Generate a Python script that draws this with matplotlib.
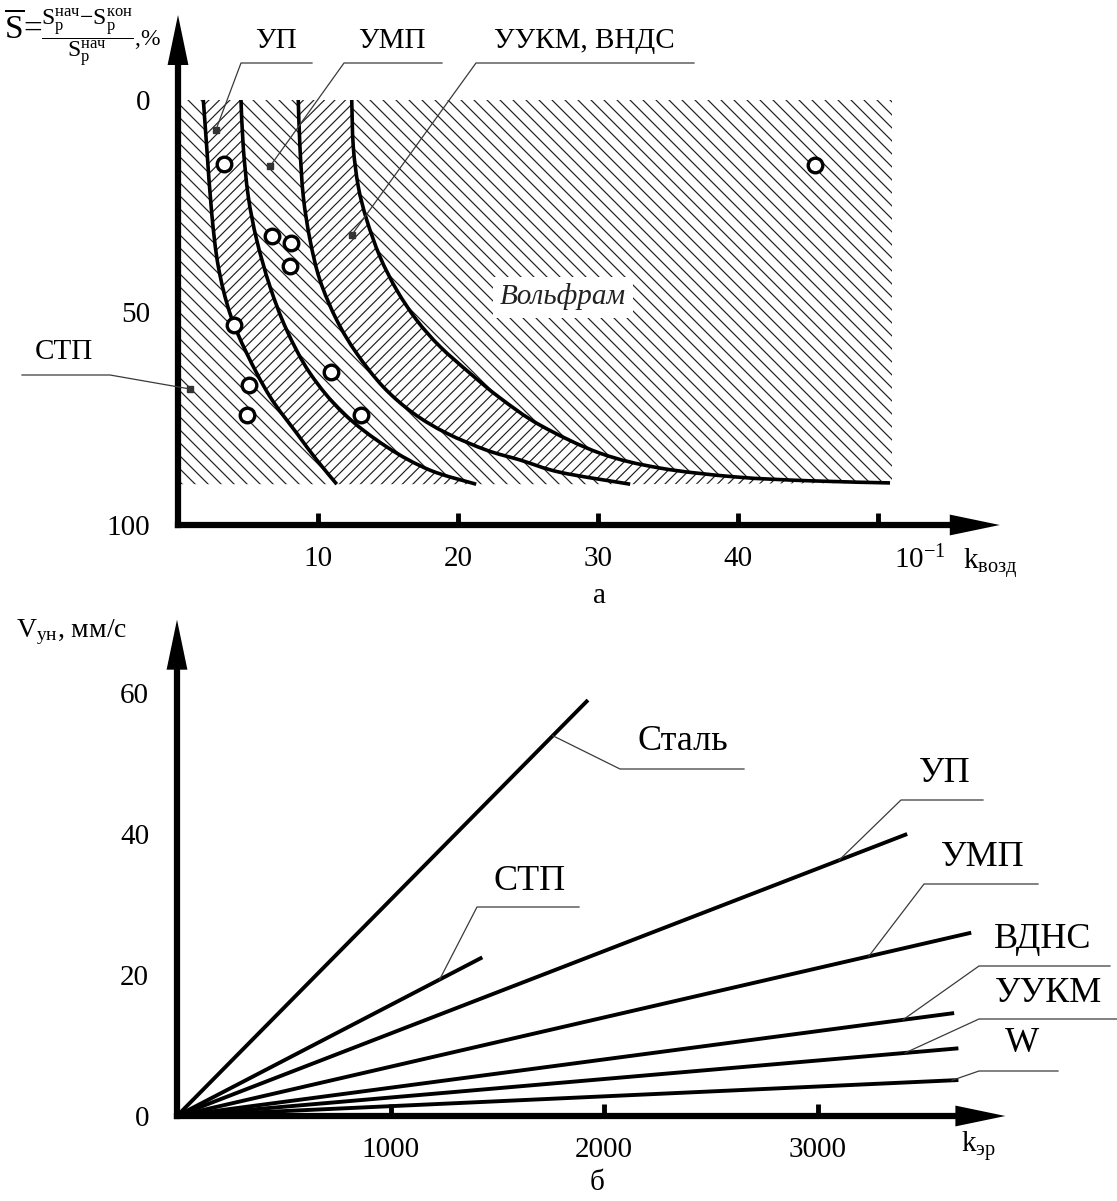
import numpy as np
import matplotlib
matplotlib.use("Agg")
import matplotlib.pyplot as plt
from matplotlib.path import Path
from matplotlib.patches import PathPatch
from matplotlib.collections import LineCollection
from matplotlib.transforms import Affine2D, IdentityTransform

W, H, DPI = 1117, 1201, 100

plt.rcParams['font.family'] = ['Liberation Serif', 'DejaVu Serif']
plt.rcParams['mathtext.fontset'] = 'custom'
plt.rcParams['mathtext.rm'] = 'Liberation Serif'
plt.rcParams['mathtext.it'] = 'Liberation Serif:italic'
plt.rcParams['mathtext.bf'] = 'Liberation Serif:bold'

# ---------------- panel a: S (%) vs k_vozd (x10^-1) ----------------
border1_k = [1.81, 2.05, 2.41, 2.88, 3.71, 4.91, 6.57, 8.48, 9.91, 11.34]
border1_s = [0, 11, 26.7, 39.2, 50.2, 59.6, 69.8, 78.4, 84.7, 90.4]
border2_k = [4.5, 4.66, 5.02, 5.62, 6.57, 7.76, 9.43, 11.81, 14.9, 18.0, 21.3]
border2_s = [0, 11, 22.7, 32.9, 43.9, 54.1, 64.3, 73.7, 81.6, 87.1, 90.4]
border3_k = [8.59, 8.71, 8.95, 9.43, 10.14, 11.34, 12.76, 14.66, 16.81, 19.19,
             22.05, 24.43, 27.3, 32.3]
border3_s = [0, 11, 22.7, 32.9, 42.4, 51.8, 59.6, 67.5, 73.7, 78.4,
             82.4, 84.7, 87.6, 90.4]
border4_k = [12.41, 12.52, 12.88, 13.48, 14.43, 15.62, 17.05, 18.71, 20.86,
             23.0, 25.86, 30.14, 34.43, 39.86, 45.14, 50.86]
border4_s = [0, 11, 20.4, 28.2, 36.9, 44.7, 51.8, 58.0, 64.3,
             70.1, 76.5, 83.1, 86.6, 88.7, 89.6, 90.1]
zone_k_max = 51
zone_s_max = 90.4

circle_k = [3.3, 6.7, 8.1, 8.0, 4.0, 5.1, 4.9, 10.9, 13.1, 45.5]
circle_s = [15.1, 31.9, 33.7, 39.1, 53.0, 67.0, 74.1, 64.0, 74.1, 15.3]

zone_names = ['УП', 'УМП', 'УУКМ, ВНДС', 'СТП']
zone_mark_k = [2.7, 6.6, 12.4, 0.86]
zone_mark_s = [7.1, 15.5, 31.8, 68.0]

a_xticks = [10, 20, 30, 40, 50]
a_xticklabels = ['10', '20', '30', '40', '']
a_yticks = [0, 50, 100]

# ---------------- panel b: V_un (mm/s) vs k_er ----------------
b_names = ['Сталь', 'СТП', 'УП', 'УМП', 'ВДНС', 'УУКМ', 'W']
b_k_end = [1925, 1430, 3420, 3720, 3640, 3660, 3660]
b_v_end = [59.0, 22.5, 40.0, 26.0, 14.6, 9.6, 5.1]
b_xticks = [1000, 2000, 3000]
b_yticks = [0, 20, 40, 60]

# label layout (picture pixels): text centre, underline y, underline x from -> to
a_label_px = [((276, 41), 63, (241, 312)),
              ((392, 41), 63, (344, 442)),
              ((584, 41), 63, (476, 694)),
              ((64, 352), 375, (110, 22))]
b_label_px = [((683, 742), 769, (620, 744)),
              ((530, 881), 907, (477, 579)),
              ((945, 774), 800, (901, 983)),
              ((983, 858), 884, (924, 1038)),
              ((1043, 940), 966, (979, 1110)),
              ((1048, 993), 1019, (979, 1117)),
              ((1022, 1044), 1071, (979, 1058))]
b_leader_k = [1760, 1230, 3100, 3240, 3400, 3410, 3630]

fig = plt.figure(figsize=(W / DPI, H / DPI), dpi=DPI)
PIX = Affine2D().scale(1, -1).translate(0, H)


def add_px_axes(x0, y0, x1, y1):
    return fig.add_axes([x0 / W, 1 - y1 / H, (x1 - x0) / W, (y1 - y0) / H])


def to_px(ax, x, y):
    dx, dy = ax.transData.transform((x, y))
    return dx, H - dy


def bezier_segments(xs, ys):
    p = np.column_stack([xs, ys]).astype(float)
    ext = np.vstack([p[0], p, p[-1]])
    segs = []
    for i in range(len(p) - 1):
        p0, p1, p2, p3 = ext[i], ext[i + 1], ext[i + 2], ext[i + 3]
        segs.append((p1, p1 + (p2 - p0) / 6, p2 - (p3 - p1) / 6, p2))
    return segs


def reverse_segments(segs):
    return [(b, c2, c1, a) for (a, c1, c2, b) in segs[::-1]]


def build_path(pieces, closed=True):
    verts, codes = [], []
    for kind, item in pieces:
        if kind == 'pt':
            verts.append(item)
            codes.append(Path.LINETO)
        else:
            verts.append(item[0][0])
            codes.append(Path.LINETO)
            for a, c1, c2, b in item:
                verts += [c1, c2, b]
                codes += [Path.CURVE4] * 3
    codes[0] = Path.MOVETO
    if closed:
        verts.append(verts[0])
        codes.append(Path.CLOSEPOLY)
    return Path(verts, codes)


def hatch(ax, patch, direction, step):
    bb = ax.bbox
    h = bb.y1 - bb.y0
    segs = []
    for c in np.arange(bb.x0 - h, bb.x1 + h, step):
        if direction == 'back':
            segs.append([(c, bb.y1), (c + h, bb.y0)])
        else:
            segs.append([(c, bb.y0), (c + h, bb.y1)])
    lc = LineCollection(segs, colors='#1e1e1e', linewidths=0.85,
                        transform=IdentityTransform(), zorder=1)
    ax.add_collection(lc, autolim=False)
    lc.set_clip_path(patch)


def axis_arrow(ax, start, tip):
    ax.annotate('', xy=tip, xytext=start, annotation_clip=False,
                arrowprops=dict(arrowstyle='simple,head_length=3.6,head_width=1.5,tail_width=0.36',
                                mutation_scale=10, fc='black', ec='none',
                                shrinkA=0, shrinkB=0))


def style_axes(ax, x_bounds, y_bounds, y_origin):
    ax.spines['top'].set_visible(False)
    ax.spines['right'].set_visible(False)
    ax.spines['left'].set_position(('data', 0))
    ax.spines['bottom'].set_position(('data', y_origin))
    ax.spines['left'].set_bounds(*y_bounds)
    ax.spines['bottom'].set_bounds(*x_bounds)
    for s in ('left', 'bottom'):
        ax.spines[s].set_linewidth(4.5)
        ax.spines[s].set_capstyle('projecting')
    ax.patch.set_visible(False)


def leader(ax, attach, text_xy, ul_y, ul_x, name, size, color='#3a3a3a'):
    ax_, ay_ = to_px(ax, *attach)
    ax.plot([ax_, ul_x[0], ul_x[1]], [ay_, ul_y, ul_y], color=color, lw=0.9,
            transform=PIX, clip_on=False, zorder=6)
    ax.text(text_xy[0], text_xy[1], name, transform=PIX, ha='center', va='center',
            fontsize=size, clip_on=False)


# ======================= panel a =======================
ax_a = add_px_axes(178, 5, 1018, 545)
ax_a.set_xlim(0, 60)
ax_a.set_ylim((545 - 100) / 4.25, (5 - 100) / 4.25)
style_axes(ax_a, (0, 55), (-10, 100), 100)

b1 = bezier_segments(border1_k, border1_s)
b2 = bezier_segments(border2_k, border2_s)
b3 = bezier_segments(border3_k, border3_s)
b4 = bezier_segments(border4_k, border4_s)

regions = [
    ([('pt', (0, 0)), ('seg', b1), ('pt', (0, zone_s_max))], 'back', 13),
    ([('seg', b1), ('seg', reverse_segments(b2))], 'fwd', 10.5),
    ([('seg', b2), ('seg', reverse_segments(b3))], 'back', 13),
    ([('seg', b3), ('seg', reverse_segments(b4))], 'fwd', 10.5),
    ([('seg', b4), ('pt', (zone_k_max, zone_s_max)), ('pt', (zone_k_max, 0))], 'back', 13),
]
for pieces, direction, step in regions:
    patch = PathPatch(build_path(pieces), fc='none', ec='none')
    ax_a.add_patch(patch)
    hatch(ax_a, patch, direction, step)

for segs in (b1, b2, b3, b4):
    ax_a.add_patch(PathPatch(build_path([('seg', segs)], closed=False), fc='none',
                             ec='black', lw=2.6, zorder=3))

ax_a.plot(circle_k, circle_s, 'o', mfc='white', mec='black', ms=10.5, mew=2.4, zorder=5)
ax_a.plot(zone_mark_k, zone_mark_s, 's', color='#333333', ms=4, zorder=5)

for name, mk, ms_, (txy, uly, ulx) in zip(zone_names, zone_mark_k, zone_mark_s, a_label_px):
    leader(ax_a, (mk, ms_), txy, uly, ulx, name, 21)

ax_a.text(563, 297, 'Вольфрам', transform=PIX, ha='center', va='center', fontsize=21,
          style='italic', color='#222222', zorder=6,
          bbox=dict(fc='white', ec='none', pad=5))

ax_a.set_xticks(a_xticks)
ax_a.set_xticklabels(a_xticklabels)
ax_a.set_yticks(a_yticks)
ax_a.set_yticklabels([str(v) for v in a_yticks])
ax_a.set_yticks([50], minor=True)
ax_a.tick_params(axis='x', direction='in', length=9, width=3.5, pad=15, labelsize=21)
ax_a.tick_params(axis='y', which='major', length=0, pad=20, labelsize=21)
ax_a.tick_params(axis='y', which='minor', direction='in', length=9, width=3.5)
axis_arrow(ax_a, (0, 0), (0, -20))
axis_arrow(ax_a, (50, 100), (58.7, 100))

fig.text(920, 560, r'$\mathrm{10}^{\mathrm{-1}}$', transform=PIX, ha='center', va='center',
         fontsize=21)
fig.text(990, 563, r'$\mathrm{k}_{\mathrm{возд}}$', transform=PIX, ha='center', va='center',
         fontsize=21)
fig.text(600, 596, 'а', transform=PIX, ha='center', va='center', fontsize=21)

# y-axis title of panel a: S-bar = (S_p^nach - S_p^kon) / S_p^nach, %
fig.text(4, 28, r'$\overline{\mathrm{S}}\!=$', transform=PIX, ha='left', va='center',
         fontsize=24)
fig.text(41, 38, r'$\dfrac{\mathrm{S}_{\mathrm{р}}^{\mathrm{нач}}'
         r'\mathrm{-}\mathrm{S}_{\mathrm{р}}^{\mathrm{кон}}}{\mathrm{S}_{\mathrm{р}}^{\mathrm{нач}}}$,%',
         transform=PIX, ha='left', va='center', fontsize=17)

# ======================= panel b =======================
ax_b = add_px_axes(177, 600, 1031, 1130)
ax_b.set_xlim(0, 4000)
ax_b.set_ylim((1116 - 1130) / 7.05, (1116 - 600) / 7.05)
style_axes(ax_b, (0, 3700), (0, 65), 0)

for k_end, v_end in zip(b_k_end, b_v_end):
    ax_b.plot([0, k_end], [0, v_end], color='black', lw=2.8, solid_capstyle='butt', zorder=3)

for name, k_end, v_end, lk, (txy, uly, ulx) in zip(b_names, b_k_end, b_v_end,
                                                    b_leader_k, b_label_px):
    leader(ax_b, (lk, v_end / k_end * lk), txy, uly, ulx, name, 26)

ax_b.set_xticks(b_xticks)
ax_b.set_yticks(b_yticks)
ax_b.set_yticks(b_yticks[1:], minor=True)
ax_b.tick_params(axis='x', direction='in', length=9, width=3.5, pad=15, labelsize=21)
ax_b.tick_params(axis='y', which='major', length=0, pad=20, labelsize=21)
ax_b.tick_params(axis='y', which='minor', direction='in', length=9, width=3.5)
axis_arrow(ax_b, (0, 60), (0, 70.4))
axis_arrow(ax_b, (3500, 0), (3880, 0))

fig.text(978, 1146, r'$\mathrm{k}_{\mathrm{эр}}$', transform=PIX, ha='center', va='center',
         fontsize=21)
fig.text(597, 1183, 'б', transform=PIX, ha='center', va='center', fontsize=21)
fig.text(16, 632, r'$\mathrm{V}_{\mathrm{ун}}$, мм/с', transform=PIX, ha='left', va='center',
         fontsize=20)

fig.savefig('out.png', dpi=DPI, facecolor='white')
